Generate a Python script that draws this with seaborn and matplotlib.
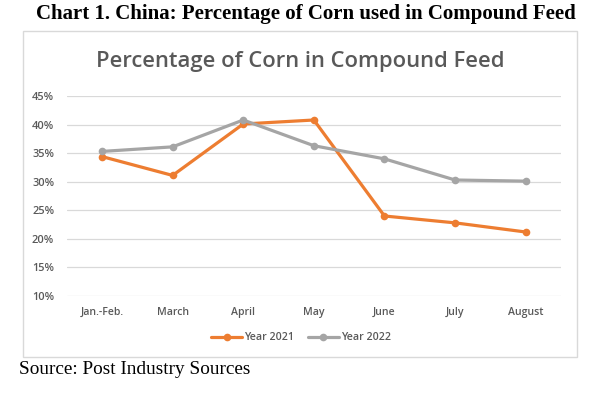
import matplotlib
matplotlib.use("Agg")
import matplotlib.pyplot as plt
from matplotlib.patches import Rectangle
from matplotlib.lines import Line2D
from matplotlib.ticker import FuncFormatter, MultipleLocator
import seaborn as sns
import pandas as pd

months = ["Jan.-Feb.", "March", "April", "May", "June", "July", "August"]
year_2021 = [34.4, 31.1, 40.1, 40.8, 24.0, 22.8, 21.2]
year_2022 = [35.3, 36.1, 40.8, 36.3, 34.0, 30.3, 30.1]
series_names = ["Year 2021", "Year 2022"]

df = pd.DataFrame({
    "Month": months * 2,
    "Value": year_2021 + year_2022,
    "Series": [series_names[0]] * len(months) + [series_names[1]] * len(months),
})

sns.set_theme(style="white")
plt.rcParams["font.family"] = ["Open Sans", "DejaVu Sans"]

W, H = 600, 396
fig = plt.figure(figsize=(W / 100, H / 100), dpi=100)
fig.patch.set_facecolor("white")

# chart frame
fig.patches.append(Rectangle((22.5 / W, 1 - 357 / H), (577 - 22.5) / W, (357 - 31) / H,
                             transform=fig.transFigure, fill=False,
                             edgecolor="#D9D9D9", linewidth=1.0))

ax = fig.add_axes([66.7 / W, 1 - 296 / H, (561 - 66.7) / W, 200 / H])
palette = {"Year 2021": "#ED7D31", "Year 2022": "#A5A5A5"}
sns.lineplot(data=df, x="Month", y="Value", hue="Series", palette=palette,
             marker="o", markersize=5.5, markeredgewidth=0, linewidth=2.3,
             sort=False, ax=ax, legend=False)

ax.set_xlim(-0.5, len(months) - 0.5)
ax.set_ylim(10, 45)
ax.yaxis.set_major_locator(MultipleLocator(5))
ax.yaxis.set_major_formatter(FuncFormatter(lambda v, p: f"{v:.0f}%"))
ax.grid(axis="y", color="#D9D9D9", linewidth=0.9)
ax.set_axisbelow(True)
for s in ax.spines.values():
    s.set_visible(False)
ax.set_xlabel("")
ax.set_ylabel("")
ax.tick_params(axis="x", length=0, labelsize=7.6, labelcolor="#595959", pad=8)
ax.tick_params(axis="y", length=0, labelsize=7.9, labelcolor="#595959", pad=9)
for lbl in ax.get_xticklabels() + ax.get_yticklabels():
    lbl.set_fontweight("semibold")

# legend
handles = [Line2D([], [], color=palette[n], marker="o", markersize=5.5,
                  markeredgewidth=0, linewidth=2.3) for n in series_names]
fig.legend(handles, series_names, loc="center", bbox_to_anchor=(301 / W, 1 - 338 / H),
           ncol=2, frameon=False, handlelength=2.9, handletextpad=0.15,
           columnspacing=1.3, labelcolor="#595959",
           prop={"family": ["Open Sans", "DejaVu Sans"], "weight": "semibold", "size": 7.7})

# titles
fig.text(300 / W, 1 - 62 / H, "Percentage of Corn in Compound Feed", ha="center", va="center",
         fontsize=15.8, color="#595959", fontweight="semibold")
fig.text(306 / W, 1 - 14 / H, "Chart 1. China: Percentage of Corn used in Compound Feed",
         ha="center", va="center", fontsize=15, fontweight="bold",
         family=["Liberation Serif", "DejaVu Serif"], color="black")
fig.text(19 / W, 1 - 369 / H, "Source: Post Industry Sources", ha="left", va="center",
         fontsize=13.9, family=["Liberation Serif", "DejaVu Serif"], color="black")

fig.savefig("out.png", dpi=100, facecolor="white")
